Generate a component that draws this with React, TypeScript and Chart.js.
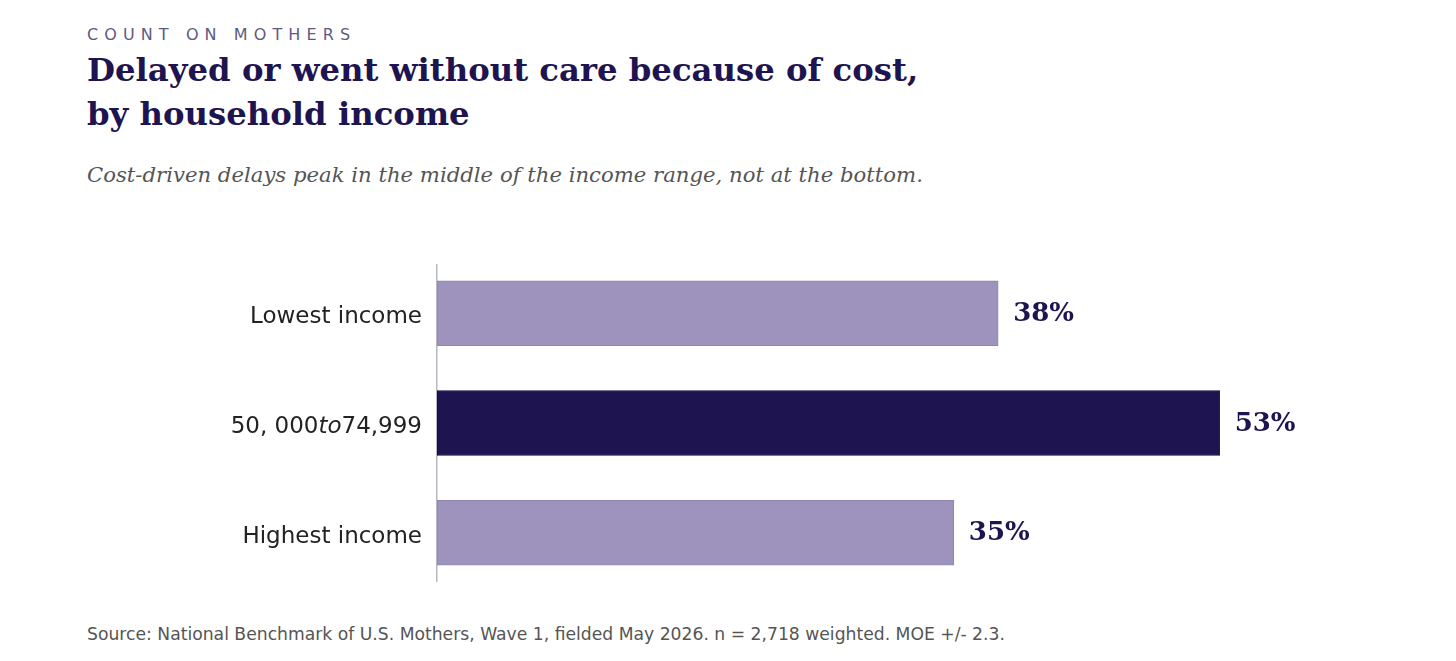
import React, { useEffect, useRef } from 'react';
import { Chart, registerables } from 'chart.js';

Chart.register(...registerables);

const categories = ['Lowest income', '$50,000 to $74,999', 'Highest income'];
const values = [38, 53, 35];
const highlighted = [false, true, false];

const LIGHT = '#9d93bd';
const DARK = '#1e1450';
const LABEL_FONT = '23px "DejaVu Sans"';
const LABEL_ITALIC = 'oblique 23px "DejaVu Sans"';

// split a label like matplotlib mathtext: text between $...$ gets italic letters
function labelParts(label: string) {
  const parts: { text: string; italic: boolean }[] = [];
  const pieces = label.split('$');
  pieces.forEach((p, i) => {
    if (!p) return;
    if (i % 2 === 0) {
      parts.push({ text: p, italic: false });
    } else {
      const math = p.replace(/\s+/g, '').replace(/,/g, ', ');
      const re = /([A-Za-z]+)|([^A-Za-z]+)/g;
      let m;
      while ((m = re.exec(math))) {
        parts.push({ text: m[0], italic: !!m[1] });
      }
    }
  });
  return parts;
}

const labelsPlugin = {
  id: 'labels',
  afterDatasetsDraw(chart: any) {
    const { ctx, chartArea } = chart;
    const yScale = chart.scales.y;
    const meta = chart.getDatasetMeta(0);
    ctx.save();
    ctx.textBaseline = 'middle';
    // category labels
    categories.forEach((cat, i) => {
      const y = yScale.getPixelForValue(i);
      const parts = labelParts(cat);
      let total = 0;
      parts.forEach((p) => {
        ctx.font = p.italic ? LABEL_ITALIC : LABEL_FONT;
        total += ctx.measureText(p.text).width;
      });
      let x = chartArea.left - 15 - total;
      ctx.fillStyle = '#222222';
      ctx.textAlign = 'left';
      parts.forEach((p) => {
        ctx.font = p.italic ? LABEL_ITALIC : LABEL_FONT;
        ctx.fillText(p.text, x, y + 4);
        x += ctx.measureText(p.text).width;
      });
    });
    // value labels
    ctx.font = 'bold 26px "DejaVu Serif"';
    ctx.fillStyle = DARK;
    ctx.textAlign = 'left';
    meta.data.forEach((bar: any, i: number) => {
      ctx.fillText(values[i] + '%', bar.x + 15, bar.y + 1);
    });
    ctx.restore();
  },
};

const BarChart = () => {
  const chartRef = useRef<HTMLCanvasElement>(null);

  useEffect(() => {
    if (!chartRef.current) return;
    const chart = new Chart(chartRef.current, {
      type: 'bar',
      data: {
        datasets: [
          {
            data: values.map((v, i) => ({ x: v, y: i })),
            backgroundColor: highlighted.map((h) => (h ? DARK : LIGHT)),
            borderColor: highlighted.map((h) => (h ? '#120a3a' : '#8f85b3')),
            borderWidth: 1,
            borderSkipped: false,
            barThickness: 65,
          },
        ],
      },
      plugins: [labelsPlugin],
      options: {
        indexAxis: 'y',
        animation: false,
        responsive: false,
        layout: { padding: { left: 421, right: 125, top: 15, bottom: 19 } },
        plugins: { legend: { display: false }, tooltip: { enabled: false } },
        scales: {
          x: { type: 'linear', min: 0, max: 60, display: false },
          y: {
            type: 'linear',
            min: -0.44,
            max: 2.44,
            reverse: true,
            offset: false,
            grid: { display: false },
            ticks: { display: false },
            border: { display: true, color: '#b8b8c4', width: 1.5 },
          },
        },
      },
    });
    return () => {
      chart.destroy();
    };
  }, []);

  return <canvas ref={chartRef} width={1440} height={350} />;
};

const App = () => {
  return (
    <div style={{ position: 'relative', width: 1440, height: 645, fontFamily: '"DejaVu Sans"' }}>
      <div
        style={{
          position: 'absolute',
          left: 79,
          top: 16,
          fontSize: 16,
          letterSpacing: '6.1px',
          color: '#5f5a80',
          lineHeight: '22px',
        }}
      >
        COUNT ON MOTHERS
      </div>
      <div
        style={{
          position: 'absolute',
          left: 79,
          top: 40,
          fontFamily: '"DejaVu Serif"',
          fontWeight: 'bold',
          fontSize: 32.3,
          lineHeight: '44px',
          color: DARK,
        }}
      >
        Delayed or went without care because of cost,
        <br />
        by household income
      </div>
      <div
        style={{
          position: 'absolute',
          left: 79,
          top: 154,
          fontFamily: '"DejaVu Serif"',
          fontStyle: 'italic',
          fontSize: 21.2,
          lineHeight: '26px',
          color: '#555555',
        }}
      >
        Cost-driven delays peak in the middle of the income range, not at the bottom.
      </div>
      <div style={{ position: 'absolute', left: 0, top: 242 }}>
        <BarChart />
      </div>
      <div
        style={{
          position: 'absolute',
          left: 79,
          top: 615,
          fontSize: 17.2,
          lineHeight: '22px',
          color: '#555555',
        }}
      >
        Source: National Benchmark of U.S. Mothers, Wave 1, fielded May 2026. n = 2,718 weighted. MOE +/- 2.3.
      </div>
    </div>
  );
};

export default App;
